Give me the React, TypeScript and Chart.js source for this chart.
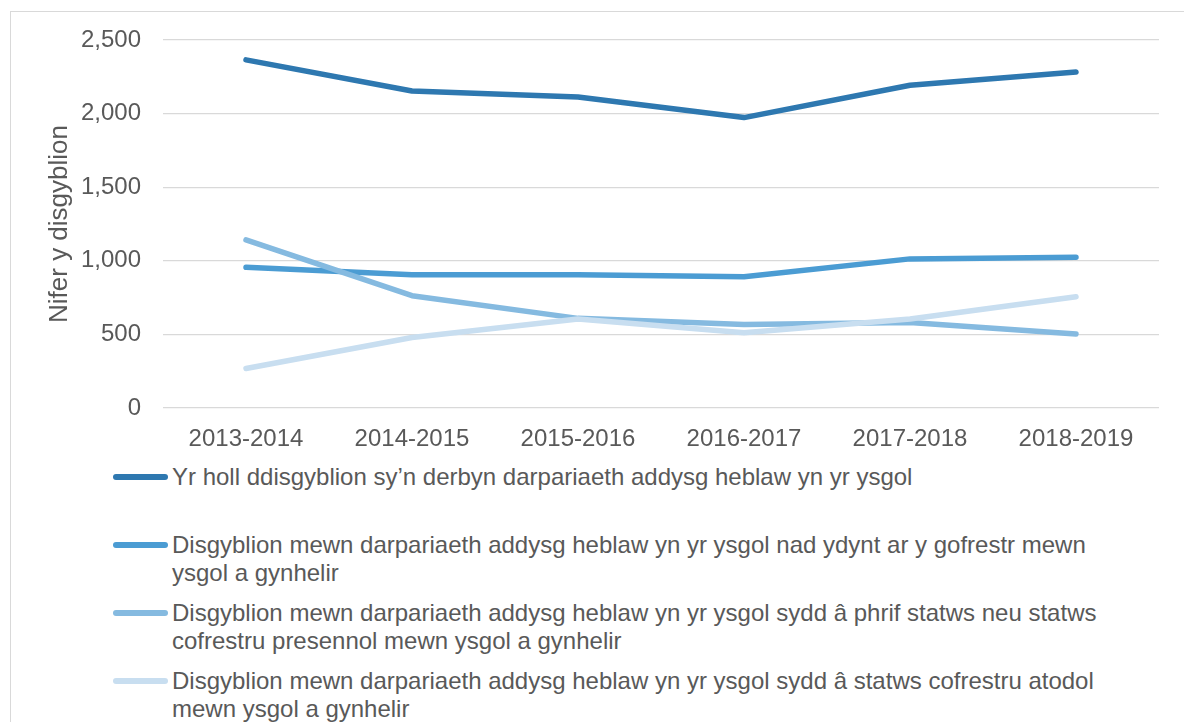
import React, { useEffect, useRef } from "react";
import { Chart, registerables } from "chart.js";

Chart.register(...registerables);

const categories = ["2013-2014", "2014-2015", "2015-2016", "2016-2017", "2017-2018", "2018-2019"];

const allPupils = [2365, 2154, 2113, 1973, 2193, 2282];
const notRegistered = [956, 906, 906, 892, 1013, 1024];
const mainRegistration = [1142, 763, 609, 567, 581, 502];
const dualRegistration = [268, 479, 604, 511, 604, 756];

const seriesLabels: string[][] = [
  ["Yr holl ddisgyblion sy’n derbyn darpariaeth addysg heblaw yn yr ysgol"],
  [
    "Disgyblion mewn darpariaeth addysg heblaw yn yr ysgol nad ydynt ar y gofrestr mewn",
    "ysgol a gynhelir",
  ],
  [
    "Disgyblion mewn darpariaeth addysg heblaw yn yr ysgol sydd â phrif statws neu statws",
    "cofrestru presennol mewn ysgol a gynhelir",
  ],
  [
    "Disgyblion mewn darpariaeth addysg heblaw yn yr ysgol sydd â statws cofrestru atodol",
    "mewn ysgol a gynhelir",
  ],
];

const seriesColors = ["#2E78B0", "#4B9CD3", "#85BAE0", "#C8DEF0"];
const seriesValues = [allPupils, notRegistered, mainRegistration, dualRegistration];

const yTicks = [0, 500, 1000, 1500, 2000, 2500];
const yTitle = "Nifer y disgyblion";

const FONT = "'Liberation Sans', Arial, sans-serif";
const TEXT = "#595959";

export default function App() {
  const ref = useRef<HTMLCanvasElement | null>(null);

  useEffect(() => {
    if (!ref.current) return;
    const chart = new Chart(ref.current, {
      type: "line",
      data: {
        labels: categories,
        datasets: seriesValues.map((vals, i) => ({
          label: seriesLabels[i].join(" "),
          data: vals,
          borderColor: seriesColors[i],
          backgroundColor: seriesColors[i],
          borderWidth: 5.5,
          pointRadius: 0,
          pointHoverRadius: 0,
          tension: 0,
          borderCapStyle: "round" as const,
          borderJoinStyle: "round" as const,
          fill: false,
          order: seriesValues.length - i,
        })),
      },
      options: {
        animation: false,
        responsive: false,
        maintainAspectRatio: false,
        layout: { padding: { left: 0, right: 25, top: 29, bottom: 0 } },
        plugins: {
          legend: { display: false },
          tooltip: { enabled: false },
          title: { display: false },
        },
        scales: {
          x: {
            offset: true,
            grid: { display: false, drawTicks: false },
            border: { display: false },
            ticks: {
              color: TEXT,
              font: { family: FONT, size: 24 },
              padding: 17,
              maxRotation: 0,
              autoSkip: false,
            },
            afterFit: (scale: any) => {
              scale.height = 43;
            },
          },
          y: {
            min: 0,
            max: 2500,
            afterBuildTicks: (scale: any) => {
              scale.ticks = yTicks.map((v) => ({ value: v }));
            },
            grid: {
              color: "#D9D9D9",
              lineWidth: 1.3,
              drawTicks: true,
              tickLength: 22,
              tickColor: "rgba(0,0,0,0)",
            },
            border: { display: false },
            ticks: {
              color: TEXT,
              font: { family: FONT, size: 24 },
              padding: 0,
              callback: (v: any) => Number(v).toLocaleString("en-US"),
            },
            title: {
              display: true,
              text: yTitle,
              color: TEXT,
              font: { family: FONT, size: 26 },
              padding: { top: 34, bottom: 0 },
            },
            afterFit: (scale: any) => {
              scale.width = 153;
            },
          },
        },
      },
    });
    return () => chart.destroy();
  }, []);

  return (
    <div
      style={{
        position: "fixed",
        left: 0,
        top: 0,
        width: 1184,
        height: 722,
        overflow: "hidden",
        background: "#fff",
      }}
    >
      <div
        style={{
          position: "absolute",
          left: 10,
          top: 11,
          width: 1200,
          height: 760,
          border: "1px solid #D9D9D9",
          boxSizing: "border-box",
        }}
      >
        <canvas
          ref={ref}
          width={1174}
          height={440}
          style={{ position: "absolute", left: -1, top: -1, width: 1174, height: 440 }}
        />
        {seriesLabels.map((lines, i) => (
          <div
            key={i}
            style={{
              position: "absolute",
              left: 102,
              top: 451 + i * 68,
              display: "flex",
              alignItems: "flex-start",
              fontFamily: FONT,
              fontSize: 24,
              lineHeight: "27.5px",
              color: TEXT,
              whiteSpace: "nowrap",
            }}
          >
            <div
              style={{
                width: 55,
                height: 6,
                borderRadius: 3,
                background: seriesColors[i],
                marginTop: 11,
                marginRight: 4,
              }}
            />
            <div>
              {lines.map((l, j) => (
                <div key={j}>{l}</div>
              ))}
            </div>
          </div>
        ))}
      </div>
    </div>
  );
}
